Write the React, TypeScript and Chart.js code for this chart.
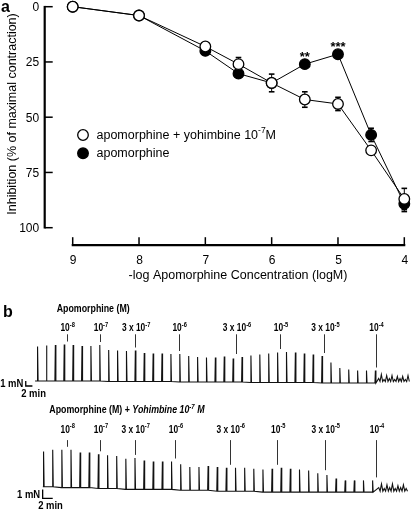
import React, { useEffect, useRef } from "react";
import { Chart, registerables } from "chart.js";

Chart.register(...registerables);

const FONT = "'Liberation Sans', Arial, Helvetica, sans-serif";

// ---------------- Panel a data ----------------
const logConcentration = [9, 8, 7, 6.5, 6, 5.5, 5, 4.5, 4];
const yohimbineMean = [0, 4, 18, 26, 34.5, 42, 44, 65, 87];
const yohimbineSem = [0, 0, 0, 3, 4, 3.5, 3, 0, 4.8];
const apomorphineMean = [0, 4, 20, 30.3, 34.5, 26, 21.5, 58, 89.2];
const apomorphineSem = [0, 0, 0, 0, 0, 0, 0, 3, 3.5];
const significance = ["", "", "", "", "", "**", "***", "", ""];
const xTickValues = [9, 8, 7, 6, 5, 4];
const yTickValues = [0, 25, 50, 75, 100];

// ---------------- Panel b data ----------------
const doseCoef = ["", "", "3 x ", "", "3 x ", "", "3 x ", ""];
const doseExp = ["-8", "-7", "-7", "-6", "-6", "-5", "-5", "-4"];

// control trace (apomorphine alone): twitch peaks (mN) per stimulation
const controlDoseAt = [3.3, 7.05, 11.0, 15.9, 22.35, 27.3, 32.3, 38.05];
const controlPeaks = [
  6.9, 7.1, 7.2, 7.3, 7.2, 7.0, 7.0, 7.2, 6.3, 6.2, 6.1, 6.2, 5.7, 5.6, 5.6, 5.5,
  5.6, 5.2, 5.0, 4.9, 4.9, 5.1, 4.7, 5.0, 5.4, 5.6, 5.8, 6.0, 6.1, 6.0, 5.8, 5.6,
  5.4, 4.1, 3.0, 2.7, 2.5, 2.5, 2.5,
];
const controlBase = [
  0, 0, 0, 0, 0, 0, 0, 0, -0.1, -0.1, -0.1, -0.1, -0.1, -0.1, -0.1, -0.1,
  -0.2, -0.2, -0.2, -0.2, -0.2, -0.2, -0.2, -0.2, -0.3, -0.3, -0.3, -0.3, -0.3, -0.3, -0.3, -0.3,
  -0.4, -0.4, -0.4, -0.4, -0.4, -0.4, -0.4,
];
const controlTail = [0.6, 1.4, 0.4, 1.2, 0.6, 1.2, 0.4, 1.0, 0.6, 1.0, 0.4, 1.2];

// yohimbine trace
const yohDoseAt = [2.56, 6.2, 10.0, 14.4, 20.4, 25.6, 30.8, 36.4];
const yohPeaks = [
  3.9, 4.1, 4.2, 4.2, 3.9, 3.9, 3.8, 3.7, 3.6, 3.4, 3.5, 3.2, 3.1, 3.1, 3.1, 2.9,
  2.6, 2.6, 2.7, 2.7, 2.6, 2.6, 2.6, 2.5, 2.5, 2.6, 2.7, 2.6, 2.5, 2.4, 2.1, 1.9,
  1.5, 1.3, 1.3, 1.3, 1.3,
];
const yohBase = [
  0, 0, -0.1, -0.1, -0.1, -0.1, -0.2, -0.2, -0.2, -0.3, -0.3, -0.3, -0.3, -0.3, -0.3, -0.4,
  -0.4, -0.4, -0.4, -0.5, -0.5, -0.5, -0.5, -0.5, -0.6, -0.6, -0.6, -0.6, -0.6, -0.6, -0.6, -0.6,
  -0.6, -0.6, -0.6, -0.6, -0.6,
];
const yohTail = [0.4, 0.8, 0.3, 0.7, 0.4, 0.8, 0.3, 0.6, 0.4, 0.7, 0.3];

// ---------------- helpers ----------------
type Seg = { t: string; sup?: boolean; it?: boolean };

function segFont(s: Seg, size: number, bold: boolean) {
  const sz = s.sup ? size * 0.68 : size;
  return `${s.it ? "italic " : ""}${bold ? "bold " : ""}${sz}px ${FONT}`;
}

function drawRich(
  ctx: CanvasRenderingContext2D,
  segs: Seg[],
  x: number,
  y: number,
  size: number,
  bold: boolean,
  sx: number,
  align: "left" | "center" | "right"
) {
  ctx.save();
  ctx.textBaseline = "alphabetic";
  ctx.textAlign = "left";
  ctx.fillStyle = "#000";
  const widths = segs.map((s) => {
    ctx.font = segFont(s, size, bold);
    return ctx.measureText(s.t).width;
  });
  const total = widths.reduce((a, b) => a + b, 0) * sx;
  const x0 = align === "center" ? x - total / 2 : align === "right" ? x - total : x;
  ctx.translate(x0, y);
  ctx.scale(sx, 1);
  let off = 0;
  segs.forEach((s, i) => {
    ctx.font = segFont(s, size, bold);
    ctx.fillText(s.t, off, s.sup ? -size * 0.42 : 0);
    off += widths[i];
  });
  ctx.restore();
}

function seg(ctx: CanvasRenderingContext2D, x1: number, y1: number, x2: number, y2: number) {
  ctx.beginPath();
  ctx.moveTo(x1, y1);
  ctx.lineTo(x2, y2);
  ctx.stroke();
}

// ---------------- Panel a ----------------
const panelAPlugin = {
  id: "panelA",
  beforeDatasetsDraw(chart: any) {
    const { ctx, scales } = chart;
    const xs = scales.x;
    const ys = scales.y;
    ctx.save();
    ctx.strokeStyle = "#000";
    const series: [number[], number[]][] = [
      [yohimbineMean, yohimbineSem],
      [apomorphineMean, apomorphineSem],
    ];
    series.forEach(([m, s]) => {
      logConcentration.forEach((c, i) => {
        if (!s[i]) return;
        const px = xs.getPixelForValue(c);
        const y1 = ys.getPixelForValue(m[i] - s[i]);
        const y2 = ys.getPixelForValue(m[i] + s[i]);
        ctx.lineWidth = 1;
        seg(ctx, px, y1, px, y2);
        ctx.lineWidth = 1.6;
        seg(ctx, px - 2.8, y1, px + 2.8, y1);
        seg(ctx, px - 2.8, y2, px + 2.8, y2);
      });
    });
    ctx.restore();
  },
  afterDraw(chart: any) {
    const { ctx, chartArea, scales } = chart;
    const xs = scales.x;
    const ys = scales.y;
    ctx.save();
    ctx.strokeStyle = "#000";
    ctx.fillStyle = "#000";

    // offset y axis with inward ticks
    const axisX = chartArea.left - 28;
    ctx.lineWidth = 2.2;
    seg(ctx, axisX, ys.getPixelForValue(0) - 0.8, axisX, ys.getPixelForValue(100) + 0.8);
    ctx.lineWidth = 1.5;
    ctx.font = `12px ${FONT}`;
    ctx.textAlign = "right";
    ctx.textBaseline = "alphabetic";
    yTickValues.forEach((v) => {
      const py = ys.getPixelForValue(v);
      seg(ctx, axisX, py, axisX + 8, py);
      ctx.fillText(String(v), axisX - 5.5, py + 4.3);
    });

    // offset x axis with inward ticks
    const axisY = chartArea.bottom + 17.5;
    ctx.lineWidth = 2.2;
    seg(ctx, xs.getPixelForValue(9) - 1, axisY, xs.getPixelForValue(4) + 1, axisY);
    ctx.lineWidth = 1.5;
    ctx.textAlign = "center";
    xTickValues.forEach((v) => {
      const px = xs.getPixelForValue(v);
      seg(ctx, px, axisY, px, axisY - 8);
      ctx.fillText(String(v), px + 0.5, axisY + 18.3);
    });

    // axis titles
    ctx.font = `12.5px ${FONT}`;
    ctx.textAlign = "center";
    ctx.textBaseline = "middle";
    ctx.fillText("-log Apomorphine Concentration (logM)", 238, 276);
    ctx.save();
    ctx.translate(13, 114);
    ctx.rotate(-Math.PI / 2);
    ctx.fillText("Inhibition (% of maximal contraction)", 0, 0);
    ctx.restore();

    // panel letter
    ctx.font = `bold 16px ${FONT}`;
    ctx.textAlign = "left";
    ctx.textBaseline = "alphabetic";
    ctx.fillText("a", 1, 11.5);

    // significance marks
    ctx.font = `bold 13px ${FONT}`;
    ctx.textAlign = "center";
    significance.forEach((s, i) => {
      if (!s) return;
      const px = xs.getPixelForValue(logConcentration[i]);
      const py = ys.getPixelForValue(apomorphineMean[i]);
      ctx.fillText(s, px, py - 3.5);
    });

    // legend
    ctx.lineWidth = 1.3;
    ctx.beginPath();
    ctx.arc(83, 135, 5.3, 0, Math.PI * 2);
    ctx.fillStyle = "#fff";
    ctx.fill();
    ctx.stroke();
    ctx.beginPath();
    ctx.arc(83, 153.3, 5.3, 0, Math.PI * 2);
    ctx.fillStyle = "#000";
    ctx.fill();
    ctx.stroke();
    drawRich(ctx, [{ t: "apomorphine + yohimbine 10" }, { t: "-7", sup: true }, { t: "M" }], 96.5, 138.5, 12.5, false, 1, "left");
    drawRich(ctx, [{ t: "apomorphine" }], 96.5, 157, 12.5, false, 1, "left");
    ctx.restore();
  },
};

function PanelA() {
  const ref = useRef<HTMLCanvasElement>(null);
  useEffect(() => {
    if (!ref.current) return;
    const mk = (mean: number[]) => logConcentration.map((x, i) => ({ x, y: mean[i] }));
    const common = {
      borderColor: "#000",
      borderWidth: 1,
      pointRadius: 5.3,
      pointBorderColor: "#000",
      pointBorderWidth: 1.3,
      tension: 0,
      clip: false as const,
    };
    const chart = new Chart(ref.current, {
      type: "line",
      data: {
        datasets: [
          {
            ...common,
            label: "apomorphine + yohimbine 10-7M",
            data: mk(yohimbineMean),
            pointBackgroundColor: "#fff",
          },
          {
            ...common,
            label: "apomorphine",
            data: mk(apomorphineMean),
            pointBackgroundColor: "#000",
          },
        ],
      },
      options: {
        animation: false,
        responsive: false,
        events: [],
        layout: { padding: { left: 0, right: 7.7, top: 6.7, bottom: 0 } },
        scales: {
          x: {
            type: "linear",
            min: 4,
            max: 9,
            reverse: true,
            border: { display: false },
            grid: { display: false, drawTicks: false, tickLength: 0 },
            ticks: { display: false, stepSize: 1 },
            afterFit: (s: any) => {
              s.height = 57.3;
            },
          },
          y: {
            min: 0,
            max: 100,
            reverse: true,
            border: { display: false },
            grid: { display: false, drawTicks: false, tickLength: 0 },
            ticks: { display: false, stepSize: 25 },
            afterFit: (s: any) => {
              s.width = 72.7;
            },
          },
        },
        plugins: { legend: { display: false }, tooltip: { enabled: false } },
      },
      plugins: [panelAPlugin],
    });
    return () => chart.destroy();
  }, []);
  return <canvas ref={ref} width={412} height={285} style={{ position: "absolute", left: 0, top: 0 }} />;
}

// ---------------- Panel b ----------------
type TraceCfg = {
  top: number;
  height: number;
  padding: { left: number; right: number; top: number; bottom: number };
  xMin: number;
  xMax: number;
  yMin: number;
  yMax: number;
  start: number;
  peaks: number[];
  base: number[];
  tail: number[];
  tailStart: number;
  tailStep: number;
  tailBase: number;
  doseAt: number[];
  title: Seg[];
  titleX: number;
  titleBaseline: number;
  labelBaseline: number;
  lineTopGap: number;
  bar: { x: number; y: number; pulsesPer2Min: number };
  letter?: string;
};

function buildTrace(c: TraceCfg) {
  const pts: { x: number; y: number }[] = [{ x: c.start, y: c.base[0] }];
  c.peaks.forEach((h, i) => {
    const b = c.base[i];
    pts.push({ x: i - 0.02, y: b });
    pts.push({ x: i + 0.03, y: b + h });
    pts.push({ x: i + 0.09, y: b });
  });
  c.tail.forEach((h, k) => {
    const t = c.tailStart + k * c.tailStep;
    pts.push({ x: t, y: c.tailBase + h });
    pts.push({ x: t + c.tailStep * 0.5, y: c.tailBase });
  });
  return pts;
}

function makeTracePlugin(c: TraceCfg) {
  return {
    id: "traceAnno",
    afterDraw(chart: any) {
      const { ctx, scales } = chart;
      const xs = scales.x;
      const ys = scales.y;
      ctx.save();
      ctx.fillStyle = "#000";
      if (c.letter) {
        ctx.font = `bold 16px ${FONT}`;
        ctx.textAlign = "left";
        ctx.textBaseline = "alphabetic";
        ctx.fillText(c.letter, 3, 31.7);
      }
      drawRich(ctx, c.title, c.titleX, c.titleBaseline, 10.5, true, 0.84, "left");

      // dose markers
      c.doseAt.forEach((t, i) => {
        const px = xs.getPixelForValue(t);
        const segs: Seg[] = [{ t: doseCoef[i] + "10" }, { t: doseExp[i], sup: true }];
        drawRich(ctx, segs, px + 1, c.labelBaseline, 10.5, true, 0.8, "center");
        const cand: number[] = [];
        [Math.floor(t), Math.ceil(t)].forEach((k) => {
          if (k >= 0 && k < c.peaks.length) cand.push(c.base[k] + c.peaks[k]);
        });
        const maxTop = cand.length ? Math.max(...cand) : c.tailBase + Math.max(...c.tail);
        const yEnd = ys.getPixelForValue(maxTop) - 3;
        ctx.strokeStyle = "#333";
        ctx.lineWidth = 1;
        seg(ctx, Math.round(px) + 0.5, c.labelBaseline + c.lineTopGap, Math.round(px) + 0.5, yEnd);
      });

      // scale bar: 1 mN x 2 min
      const cx = xs.getPixelForValue(c.bar.x);
      const cy = ys.getPixelForValue(c.bar.y);
      const vTop = ys.getPixelForValue(c.bar.y + 1);
      const hEnd = xs.getPixelForValue(c.bar.x + c.bar.pulsesPer2Min);
      ctx.strokeStyle = "#000";
      ctx.lineWidth = 1.3;
      ctx.beginPath();
      ctx.moveTo(cx, vTop);
      ctx.lineTo(cx, cy);
      ctx.lineTo(hEnd, cy);
      ctx.stroke();
      drawRich(ctx, [{ t: "1 mN" }], cx - 2.5, (vTop + cy) / 2 + 3.6, 10.5, true, 0.9, "right");
      drawRich(ctx, [{ t: "2 min" }], cx - 4.5, cy + 10.5, 10.5, true, 0.9, "left");
      ctx.restore();
    },
  };
}

const controlCfg: TraceCfg = {
  top: 285,
  height: 115,
  padding: { left: 28.41, right: 1.32, top: 46, bottom: 9 },
  xMin: -1,
  xMax: 42,
  yMin: -2,
  yMax: 10,
  start: -0.25,
  peaks: controlPeaks,
  base: controlBase,
  tail: controlTail,
  tailStart: 38.4,
  tailStep: 0.3,
  tailBase: -0.1,
  doseAt: controlDoseAt,
  title: [{ t: "Apomorphine (M)" }],
  titleX: 56.7,
  titleBaseline: 26.7,
  labelBaseline: 46.3,
  lineTopGap: 3,
  bar: { x: -1.3, y: -1, pulsesPer2Min: 0.75 },
  letter: "b",
};

const yohCfg: TraceCfg = {
  top: 400,
  height: 110,
  padding: { left: 34.16, right: 3.1, top: 32.7, bottom: 5.3 },
  xMin: -1,
  xMax: 40,
  yMin: -2,
  yMax: 6,
  start: -0.05,
  peaks: yohPeaks,
  base: yohBase,
  tail: yohTail,
  tailStart: 36.7,
  tailStep: 0.3,
  tailBase: -0.5,
  doseAt: yohDoseAt,
  title: [{ t: "Apomorphine (M) + " }, { t: "Yohimbine 10", it: true }, { t: "-7", it: true, sup: true }, { t: " M", it: true }],
  titleX: 49.3,
  titleBaseline: 13.3,
  labelBaseline: 32.6,
  lineTopGap: 7.5,
  bar: { x: -0.07, y: -1.3, pulsesPer2Min: 1.1 },
};

function Trace({ cfg }: { cfg: TraceCfg }) {
  const ref = useRef<HTMLCanvasElement>(null);
  useEffect(() => {
    if (!ref.current) return;
    const chart = new Chart(ref.current, {
      type: "line",
      data: {
        datasets: [
          {
            data: buildTrace(cfg),
            borderColor: "#111",
            borderWidth: 1.1,
            pointRadius: 0,
            tension: 0,
            fill: false,
          },
        ],
      },
      options: {
        animation: false,
        responsive: false,
        events: [],
        layout: { padding: cfg.padding },
        scales: {
          x: { type: "linear", display: false, min: cfg.xMin, max: cfg.xMax },
          y: { display: false, min: cfg.yMin, max: cfg.yMax },
        },
        plugins: { legend: { display: false }, tooltip: { enabled: false } },
      },
      plugins: [makeTracePlugin(cfg)],
    });
    return () => chart.destroy();
  }, [cfg]);
  return (
    <canvas
      ref={ref}
      width={412}
      height={cfg.height}
      style={{ position: "absolute", left: 0, top: cfg.top }}
    />
  );
}

export default function App() {
  return (
    <div style={{ position: "absolute", left: 0, top: 0, width: 412, height: 510, background: "#fff", overflow: "hidden" }}>
      <PanelA />
      <Trace cfg={controlCfg} />
      <Trace cfg={yohCfg} />
    </div>
  );
}
